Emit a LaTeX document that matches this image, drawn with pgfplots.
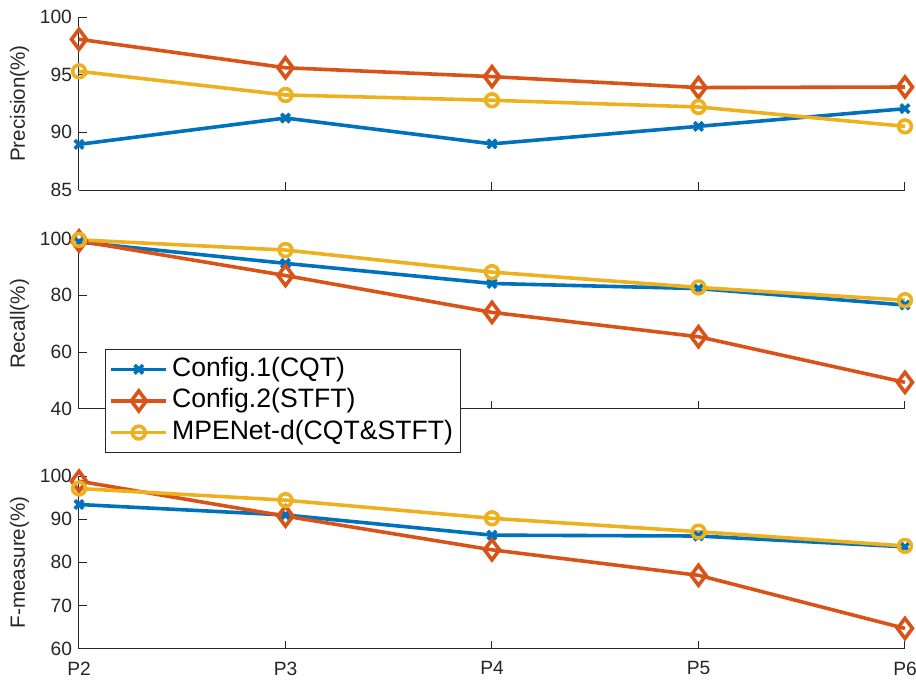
\documentclass[border=0pt]{standalone}
\usepackage{pgfplots}
\pgfplotsset{compat=1.18}
\usepackage{fontspec}
\setmainfont{Liberation Sans}
\definecolor{c1}{rgb}{0,0.447,0.741}
\definecolor{c2}{rgb}{0.85,0.325,0.098}
\definecolor{c3}{rgb}{0.929,0.694,0.125}
\definecolor{axgray}{rgb}{0.15,0.15,0.15}
\pgfplotsset{
  mystyle/.style={
    width=413pt, scale only axis,
    xmin=2, xmax=6, xtick={2,3,4,5,6},
    axis x line*=bottom, axis y line*=left,
    tick align=inside, major tick length=4pt,
    axis line style={line width=0.5pt, color=axgray},
    tick style={line width=0.5pt, color=axgray},
    ticklabel style={font=\fontsize{9.6}{11}\selectfont, color=axgray},
    /pgf/number format/assume math mode=true,
    xticklabel style={yshift=-3pt},
    every axis y label/.style={at={(axis description cs:-0.072,0.5)}, rotate=90, anchor=center, font=\fontsize{10.3}{12}\selectfont, color=axgray},
    clip=false,
  },
  s1/.style={color=c1, line width=1.8pt, mark=x, mark size=3pt, mark options={solid}},
  s2/.style={color=c2, line width=1.8pt, mark=diamond, mark size=5pt, mark options={solid}},
  s3/.style={color=c3, line width=1.8pt, mark=o, mark size=3.2pt, mark options={solid}},
}
\begin{document}
\begin{tikzpicture}
\useasboundingbox (-39.5pt,-16.65pt) rectangle (418.5pt,324.35pt);
% Precision
\begin{axis}[mystyle, at={(0pt,229.35pt)}, anchor=south west, height=86.5pt,
  ymin=85, ymax=100, ytick={85,90,95,100}, xticklabels={}, ylabel={Precision(\%)}]
\addplot[s1] coordinates {(2,88.96) (3,91.24) (4,89.0) (5,90.52) (6,92.05)};
\addplot[s2] coordinates {(2,98.07) (3,95.6) (4,94.83) (5,93.88) (6,93.93)};
\addplot[s3] coordinates {(2,95.29) (3,93.24) (4,92.78) (5,92.2) (6,90.52)};
\end{axis}
% Recall
\begin{axis}[mystyle, at={(0pt,120pt)}, anchor=south west, height=85pt,
  ymin=40, ymax=100, ytick={40,60,80,100}, xticklabels={}, ylabel={Recall(\%)},
  legend style={at={(axis description cs:0.0315,0.351)}, anchor=north west,
    draw=axgray, line width=0.5pt, fill=white, inner sep=2pt,
    font=\fontsize{13.3}{15}\selectfont,
    nodes={inner xsep=2pt, inner ysep=1.4pt, text height=10pt, text depth=3pt}},
  legend cell align=left,
  legend image code/.code={\draw[mark repeat=2,mark phase=2] plot coordinates {(0pt,0pt) (13.75pt,0pt) (27.5pt,0pt)};}]
\addplot[s1] coordinates {(2,98.8) (3,91.3) (4,84.2) (5,82.4) (6,76.6)};
\addlegendentry{Config.1(CQT)}
\addplot[s2] coordinates {(2,99.2) (3,87.0) (4,74.0) (5,65.4) (6,49.3)};
\addlegendentry{Config.2(STFT)}
\addplot[s3] coordinates {(2,99.6) (3,96.0) (4,88.2) (5,82.8) (6,78.3)};
\addlegendentry{MPENet-d(CQT\&STFT)}
\end{axis}
% F-measure
\begin{axis}[mystyle, at={(0pt,0pt)}, anchor=south west, height=86.35pt,
  ymin=60, ymax=100, ytick={60,70,80,90,100}, xticklabels={P2,P3,P4,P5,P6}, ylabel={F-measure(\%)}]
\addplot[s1] coordinates {(2,93.4) (3,90.97) (4,86.3) (5,86.1) (6,83.6)};
\addplot[s2] coordinates {(2,98.8) (3,90.7) (4,82.9) (5,77.0) (6,64.7)};
\addplot[s3] coordinates {(2,97.1) (3,94.4) (4,90.2) (5,87.1) (6,83.8)};
\end{axis}
\end{tikzpicture}
\end{document}
